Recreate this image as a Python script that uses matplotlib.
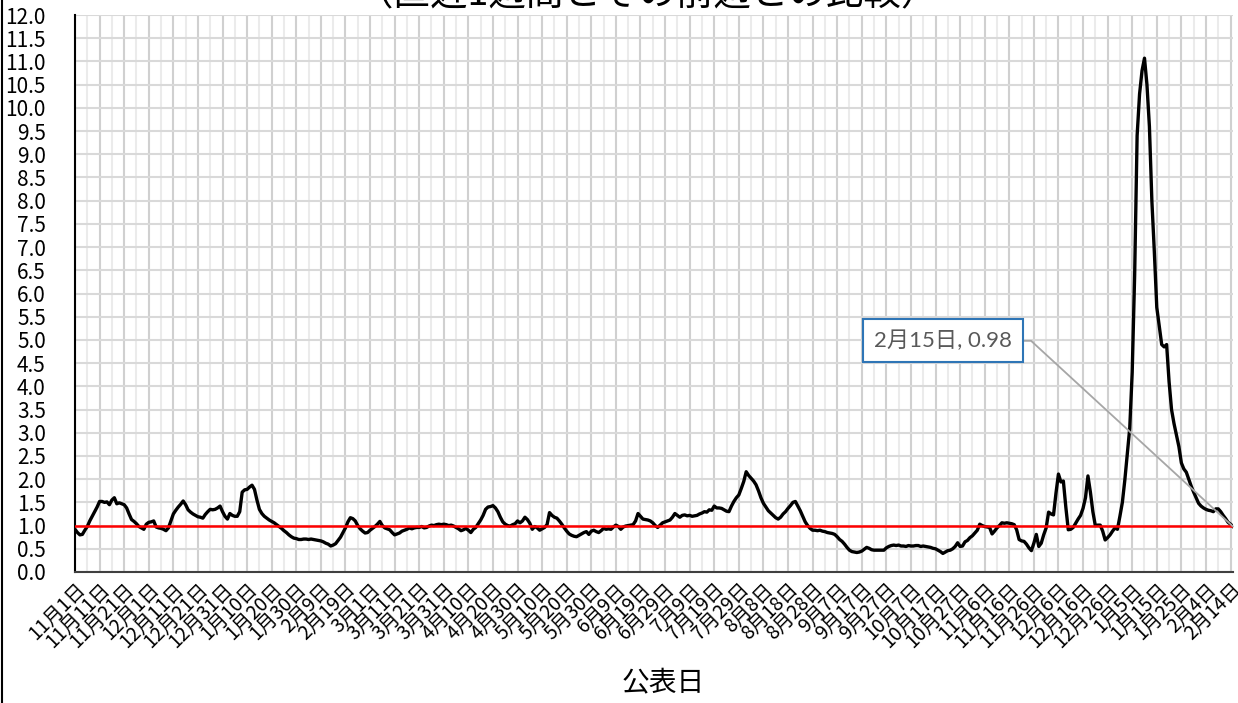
import numpy as np
import pandas as pd
import matplotlib
matplotlib.use("Agg")
import matplotlib.pyplot as plt
from matplotlib.lines import Line2D

plt.rcParams['font.family'] = ['Noto Sans CJK JP', 'DejaVu Sans']

start_date = "2020-11-01"
title = "（直近1週間とその前週との比較）"
x_label = "公表日"
callout_text = "2月15日, 0.98"

# 前週比 (daily, 2020-11-01 .. 2022-02-15)
ratio = [
    0.92, 0.85, 0.80, 0.81, 0.90, 0.98, 1.10, 1.20, 1.30, 1.40,
    1.52, 1.52, 1.50, 1.51, 1.45, 1.55, 1.60, 1.47, 1.49, 1.47,
    1.45, 1.38, 1.25, 1.13, 1.09, 1.04, 0.98, 0.95, 0.92, 1.03,
    1.07, 1.08, 1.10, 0.97, 0.95, 0.94, 0.92, 0.89, 0.95, 1.10,
    1.25, 1.33, 1.40, 1.46, 1.53, 1.45, 1.34, 1.29, 1.25, 1.22,
    1.19, 1.18, 1.16, 1.24, 1.30, 1.35, 1.34, 1.35, 1.38, 1.42,
    1.30, 1.20, 1.14, 1.26, 1.22, 1.20, 1.20, 1.30, 1.72, 1.77,
    1.78, 1.83, 1.87, 1.78, 1.55, 1.35, 1.26, 1.20, 1.16, 1.12,
    1.09, 1.06, 1.02, 0.98, 0.94, 0.89, 0.85, 0.80, 0.76, 0.73,
    0.72, 0.70, 0.70, 0.71, 0.71, 0.70, 0.71, 0.70, 0.69, 0.68,
    0.67, 0.65, 0.62, 0.60, 0.56, 0.58, 0.61, 0.68, 0.75, 0.85,
    0.95, 1.08, 1.17, 1.15, 1.10, 1.00, 0.93, 0.88, 0.84, 0.85,
    0.90, 0.94, 0.98, 1.03, 1.09, 1.00, 0.95, 0.93, 0.91, 0.85,
    0.80, 0.82, 0.84, 0.88, 0.90, 0.92, 0.95, 0.93, 0.95, 0.96,
    0.96, 0.98, 0.95, 0.96, 0.99, 1.01, 1.00, 1.02, 1.03, 1.02,
    1.03, 1.02, 1.00, 1.01, 0.99, 0.96, 0.93, 0.89, 0.91, 0.94,
    0.90, 0.85, 0.92, 0.96, 1.04, 1.12, 1.22, 1.35, 1.40, 1.41,
    1.43, 1.38, 1.30, 1.18, 1.08, 1.03, 1.00, 0.99, 1.02, 1.04,
    1.10, 1.06, 1.10, 1.18, 1.13, 1.05, 0.92, 0.98, 0.95, 0.90,
    0.93, 0.96, 1.02, 1.28, 1.22, 1.18, 1.16, 1.10, 1.03, 0.95,
    0.88, 0.82, 0.79, 0.77, 0.76, 0.79, 0.82, 0.85, 0.87, 0.81,
    0.88, 0.90, 0.87, 0.85, 0.89, 0.94, 0.92, 0.93, 0.92, 0.97,
    1.01, 0.98, 0.92, 0.97, 0.99, 1.00, 1.01, 1.02, 1.10, 1.26,
    1.20, 1.14, 1.13, 1.12, 1.10, 1.06, 1.00, 0.96, 1.01, 1.06,
    1.08, 1.10, 1.12, 1.18, 1.26, 1.22, 1.18, 1.22, 1.23, 1.21,
    1.22, 1.20, 1.21, 1.22, 1.25, 1.27, 1.30, 1.29, 1.34, 1.33,
    1.42, 1.38, 1.38, 1.37, 1.34, 1.31, 1.30, 1.42, 1.52, 1.60,
    1.66, 1.80, 1.95, 2.16, 2.08, 2.02, 1.96, 1.88, 1.75, 1.60,
    1.48, 1.40, 1.32, 1.27, 1.22, 1.17, 1.14, 1.18, 1.25, 1.30,
    1.37, 1.43, 1.50, 1.52, 1.42, 1.32, 1.20, 1.08, 1.00, 0.94,
    0.90, 0.90, 0.89, 0.90, 0.88, 0.87, 0.85, 0.84, 0.83, 0.81,
    0.76, 0.70, 0.66, 0.60, 0.53, 0.47, 0.44, 0.43, 0.42, 0.43,
    0.45, 0.49, 0.53, 0.51, 0.48, 0.47, 0.47, 0.47, 0.47, 0.47,
    0.52, 0.55, 0.57, 0.58, 0.57, 0.58, 0.56, 0.56, 0.55, 0.57,
    0.56, 0.56, 0.57, 0.57, 0.55, 0.56, 0.55, 0.54, 0.53, 0.51,
    0.50, 0.47, 0.44, 0.40, 0.43, 0.46, 0.47, 0.50, 0.55, 0.63,
    0.55, 0.56, 0.65, 0.68, 0.74, 0.78, 0.84, 0.90, 1.03, 1.00,
    0.98, 0.97, 0.96, 0.82, 0.88, 0.95, 1.00, 1.06, 1.05, 1.06,
    1.05, 1.04, 1.02, 0.91, 0.70, 0.67, 0.66, 0.60, 0.52, 0.46,
    0.62, 0.81, 0.55, 0.62, 0.80, 0.95, 1.29, 1.25, 1.23, 1.70,
    2.11, 1.94, 1.96, 1.40, 0.91, 0.92, 0.96, 1.05, 1.14, 1.22,
    1.37, 1.60, 2.07, 1.72, 1.30, 1.00, 1.01, 1.01, 0.88, 0.69,
    0.74, 0.80, 0.88, 0.95, 0.92, 1.20, 1.50, 1.98, 2.55, 3.10,
    4.30, 6.40, 9.40, 10.30, 10.80, 11.07, 10.50, 9.60, 8.00, 6.90,
    5.70, 5.30, 4.90, 4.85, 4.90, 4.10, 3.50, 3.20, 2.95, 2.70,
    2.35, 2.22, 2.15, 2.00, 1.85, 1.72, 1.60, 1.48, 1.42, 1.38,
    1.35, 1.33, 1.32, 1.30, 1.36, 1.36, 1.30, 1.22, 1.15, 1.07,
    1.03, 0.98,
]

dates = pd.date_range(start_date, periods=len(ratio), freq="D")
days = np.arange(len(ratio))
tick_labels = [f"{d.month}月{d.day}日" for d in dates[::10]]

fig = plt.figure(figsize=(12.38, 7.03), dpi=100)
ax = fig.add_axes([75 / 1238, 131 / 703, 1158 / 1238, 557 / 703])

ax.plot(days, ratio, color="black", lw=2.4, zorder=3, solid_joinstyle="round")
ax.axhline(1.0, color="#ff0000", lw=1.8, zorder=4)

ax.set_xlim(0, len(ratio) - 1)
ax.set_ylim(0, 12)
ax.set_yticks(np.arange(0, 12.01, 0.5))
ax.set_yticklabels([f"{v:.1f}" for v in np.arange(0, 12.01, 0.5)], fontsize=15)
ax.set_xticks(days[::10])
ax.set_xticks(days[5::10], minor=True)
ax.set_xticklabels(tick_labels, rotation=45, ha="right", va="top",
                   rotation_mode="anchor", fontsize=14)
ax.tick_params(axis="both", which="both", length=0)
ax.tick_params(axis="y", pad=21)
ax.tick_params(axis="x", pad=5)

ax.set_axisbelow(True)
ax.grid(which="major", axis="x", color="#d0d0d0", lw=1.5)
ax.grid(which="minor", axis="x", color="#ebebeb", lw=1.5)
ax.grid(which="major", axis="y", color="#d9d9d9", lw=1.5)

for s in ("top", "right"):
    ax.spines[s].set_visible(False)
ax.spines["left"].set_color("black")
ax.spines["left"].set_linewidth(1.5)
ax.spines["bottom"].set_color("#404040")
ax.spines["bottom"].set_linewidth(1.5)

ax.annotate(callout_text, xy=(days[-1], ratio[-1]), xytext=(353, 4.98),
            textcoords="data", ha="center", va="center", fontsize=16,
            color="#595959", family=["Lato", "Noto Sans CJK JP"],
            bbox=dict(boxstyle="square,pad=0.5", fc="white", ec="#2e75b6", lw=1.5),
            arrowprops=dict(arrowstyle="-", color="#a6a6a6", lw=1.3,
                            relpos=(1, 0.5), shrinkA=0, shrinkB=0,
                            connectionstyle="angle,angleA=0,angleB=-42.6,rad=0"),
            zorder=5)

fig.text(648 / 1238, 1 - 4 / 703, title, ha="center", va="baseline", fontsize=27)
fig.text(663 / 1238, 1 - 682 / 703, x_label, ha="center", va="center", fontsize=20)

# chart frame edge on the left
fig.add_artist(Line2D([2 / 1238, 2 / 1238], [0, 1], color="black", lw=1.5,
                      transform=fig.transFigure))

fig.savefig("out.png", dpi=100)
